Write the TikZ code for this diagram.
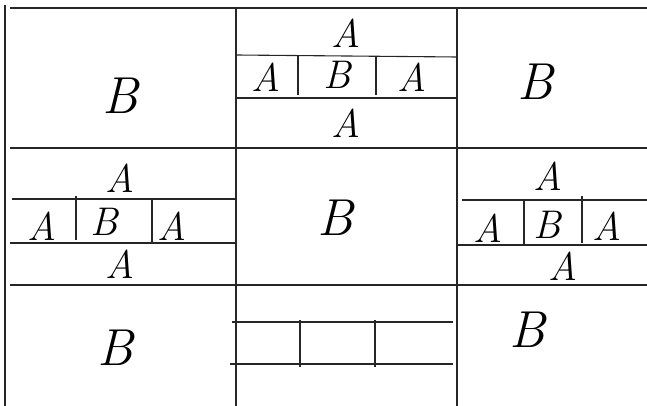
\documentclass[tikz,border=0pt]{standalone}
\usepackage{tikz}
\usetikzlibrary{positioning}
\tikzset{
  gridline/.style={line width=1.1pt, draw=black!85},
  gridthick/.style={line width=1.6pt, draw=black!85},
  letter/.style={font=\fontsize{52}{52}\selectfont\itshape, inner sep=0pt},
  smallletter/.style={font=\fontsize{40}{40}\selectfont\itshape, inner sep=0pt}
}

\begin{document}
\begin{tikzpicture}[x=1pt, y=-1pt]
  \useasboundingbox (0,0) rectangle (647,406);

  % outer grid
  \draw[gridthick] (10,8) -- (647,8);
  \draw[gridline] (5,5) -- (5,406);
  \draw[gridline] (236,8) -- (236,406);
  \draw[gridline] (457,8) -- (457,406);
  \draw[gridline] (10,148) -- (647,148);
  \draw[gridline] (10,285) -- (647,285);

  % top row
  \node[letter] (bTL) at (120,96) {B};
  \node[letter] (bTR) at (535,82) {B};
  \draw[gridline] (236,55) -- (457,57);
  \draw[gridline] (236,98) -- (457,98);
  \draw[gridline] (298,55) -- (298,95);
  \draw[gridline] (376,56) -- (376,95);
  \node[smallletter] (aTtop) at (346,33) {A};
  \node[smallletter] (aTl) at (266,77) {A};
  \node[smallletter] (bTm) at (337,75) {B};
  \node[smallletter] (aTr) at (412,77) {A};
  \node[smallletter] (aTbot) at (346,123) {A};

  % middle row, left
  \draw[gridline] (12,199) -- (236,199);
  \draw[gridline] (10,243) -- (236,243);
  \draw[gridline] (76,196) -- (76,240);
  \draw[gridline] (152,200) -- (152,243);
  \node[smallletter] (aMLtop) at (120,178) {A};
  \node[smallletter] (aMLl) at (42,226) {A};
  \node[smallletter] (bMLm) at (104,222) {B};
  \node[smallletter] (aMLr) at (172,226) {A};
  \node[smallletter] (aMLbot) at (120,264) {A};

  % middle row, centre
  \node[letter] (bMM) at (335,218) {B};

  % middle row, right
  \draw[gridline] (462,200) -- (647,200);
  \draw[gridline] (457,245) -- (647,245);
  \draw[gridline] (524,200) -- (524,244);
  \draw[gridline] (582,196) -- (582,243);
  \node[smallletter] (aMRtop) at (548,176) {A};
  \node[smallletter] (aMRl) at (488,228) {A};
  \node[smallletter] (bMRm) at (547,225) {B};
  \node[smallletter] (aMRr) at (607,226) {A};
  \node[smallletter] (aMRbot) at (563,266) {A};

  % bottom row
  \node[letter] (bBL) at (115,348) {B};
  \node[letter] (bBR) at (527,330) {B};
  \draw[gridline] (232,322) -- (453,322);
  \draw[gridline] (230,364) -- (453,364);
  \draw[gridline] (300,320) -- (300,367);
  \draw[gridline] (375,320) -- (375,367);
\end{tikzpicture}
\end{document}
